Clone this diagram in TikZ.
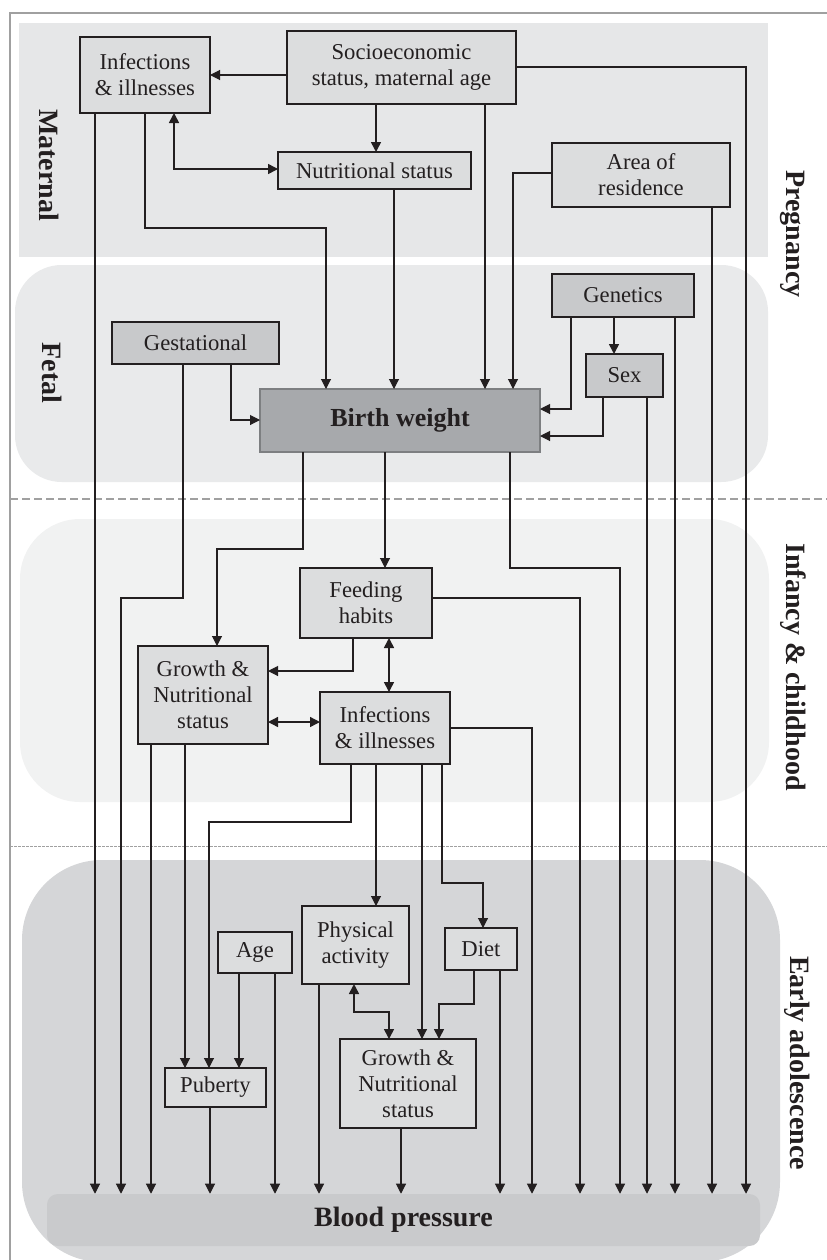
\documentclass[tikz,border=0pt]{standalone}
\usepackage{fontspec}
\setmainfont{Liberation Serif}
\usetikzlibrary{arrows.meta}
\definecolor{ink}{HTML}{231F20}
\definecolor{bandA}{HTML}{E6E7E8}
\definecolor{bandB}{HTML}{E9EAEB}
\definecolor{bandC}{HTML}{F1F2F2}
\definecolor{bandD}{HTML}{D5D6D8}
\definecolor{bpbar}{HTML}{C9CACC}
\definecolor{boxL}{HTML}{DCDDDE}
\definecolor{boxM}{HTML}{C8C9CB}
\definecolor{boxD}{HTML}{A7A9AC}
\definecolor{frameC}{HTML}{A0A0A0}
\newcommand\bx[7]{\node[#7, minimum width={(#4-#2)*0.75pt}, minimum height={(#5-#3)*0.75pt}] (#1) at ({(#2+#4)/2},{(#3+#5)/2}) {#6};}
\tikzset{
  box/.style={draw=ink, line width=1pt, inner sep=0pt, outer sep=0pt, align=center, text=ink,
    font=\fontsize{17}{19.5}\selectfont},
  lbox/.style={box, fill=boxL},
  mbox/.style={box, fill=boxM},
  dbox/.style={box, fill=boxD, draw=boxD!75!black, font=\fontsize{19.5}{22}\selectfont\bfseries},
  arr/.style={draw=ink, line width=0.8pt, -{Triangle[length=7.5pt,width=7.5pt]}},
  tarr/.style={arr, line width=1.2pt},
  barr/.style={draw=ink, line width=1.2pt, {Triangle[length=7.5pt,width=7.5pt]}-{Triangle[length=7.5pt,width=7.5pt]}},
  side/.style={font=\fontsize{21}{24}\selectfont\bfseries, text=ink, rotate=-90},
}
\begin{document}
\begin{tikzpicture}[x=0.75pt,y=-0.75pt]
\useasboundingbox (0,0) rectangle (827,1260);
\begin{scope}
\clip (0,0) rectangle (827,1260);
% frame
\draw[frameC, line width=0.8pt] (10,1270) -- (10,13) -- (830,13);
% bands
\fill[bandA] (19,23) rectangle (768,257);
\fill[bandB, rounded corners=35] (15,265) rectangle (768,482);
\fill[bandC, rounded corners=45] (20,519) rectangle (769,802);
\fill[bandD, rounded corners=60] (22,860) rectangle (780,1262);
\draw[frameC, line width=0.8pt, dash pattern=on 6pt off 3pt] (10,499) -- (827,499);
\draw[frameC, line width=0.5pt, dash pattern=on 2pt off 1pt] (10,846) -- (827,846);
\end{scope}
\node[fill=bpbar, rounded corners=8, minimum width={713*0.75pt}, minimum height={52*0.75pt}, inner sep=0pt,
  font=\fontsize{21}{24}\selectfont\bfseries, text=ink] (bp) at (403.5,1220) {Blood pressure};
% side labels
\node[side] (lmat) at (49,165) {Maternal};
\node[side] (lfet) at (52,373) {Fetal};
\node[side] (lpre) at (793,234) {Pregnancy};
\node[side] (linf) at (793,667) {Infancy \& childhood};
\node[side] (lado) at (797,1063) {Early adolescence};
% boxes
\bx{inf1}{80}{37}{210}{113}{Infections\\\& illnesses}{lbox}
\bx{soc}{287}{31}{516}{104}{Socioeconomic\\status, maternal age}{lbox}
\bx{nut}{278}{152}{471}{189}{Nutritional status}{lbox}
\bx{area}{552}{143}{730}{207}{Area of\\residence}{lbox}
\bx{gest}{112}{322}{279}{364}{Gestational}{mbox}
\bx{gen}{552}{274}{694}{317}{Genetics}{mbox}
\bx{sex}{586}{354}{663}{397}{Sex}{mbox}
\bx{bw}{260}{389}{540}{452}{Birth weight}{dbox}
\bx{feed}{300}{568}{432}{638}{Feeding\\habits}{lbox}
\bx{gn1}{138}{646}{268}{744}{Growth \&\\Nutritional\\status}{lbox}
\bx{inf2}{320}{692}{450}{764}{Infections\\\& illnesses}{lbox}
\bx{pa}{302}{906}{409}{984}{Physical\\activity}{lbox}
\bx{age}{218}{932}{292}{973}{Age}{lbox}
\bx{pub}{165}{1068}{266}{1107}{Puberty}{lbox}
\bx{diet}{445}{928}{517}{970}{Diet}{lbox}
\bx{gn2}{340}{1039}{476}{1128}{Growth \&\\Nutritional\\status}{lbox}
% maternal connectors
\draw[arr] (soc.west |- 0,75) -- (inf1.east |- 0,75);
\draw[tarr] (376,0 |- soc.south) -- (376,0 |- nut.north);
\draw[barr] (174,0 |- inf1.south) |- (nut.west |- 0,169);
\draw[arr] (145,0 |- inf1.south) |- (326,228) -- (326,0 |- bw.north);
\draw[arr] (394,0 |- nut.south) -- (394,0 |- bw.north);
\draw[arr] (485,0 |- soc.south) -- (485,0 |- bw.north);
\draw[arr] (area.west |- 0,173) -| (513,0 |- bw.north);
\draw[arr] (soc.east |- 0,67) -| (746,0 |- bp.north);
\draw[arr] (95,0 |- inf1.south) -- (95,0 |- bp.north);
\draw[arr] (712,0 |- area.south) -- (712,0 |- bp.north);
% fetal connectors
\draw[arr] (231,0 |- gest.south) |- (bw.west |- 0,420);
\draw[arr] (183,0 |- gest.south) -- (183,598) -| (121,0 |- bp.north);
\draw[arr] (571,0 |- gen.south) |- (bw.east |- 0,409);
\draw[arr] (603,0 |- sex.south) |- (bw.east |- 0,436);
\draw[tarr] (614,0 |- gen.south) -- (614,0 |- sex.north);
\draw[arr] (647,0 |- sex.south) -- (647,0 |- bp.north);
\draw[arr] (675,0 |- gen.south) -- (675,0 |- bp.north);
\draw[arr] (385,0 |- bw.south) -- (385,0 |- feed.north);
\draw[arr] (303,0 |- bw.south) -- (303,549) -| (217,0 |- gn1.north);
\draw[arr] (510,0 |- bw.south) -- (510,568) -| (620,0 |- bp.north);
% infancy connectors
\draw[arr] (353,0 |- feed.south) |- (gn1.east |- 0,671);
\draw[barr] (389,0 |- feed.south) -- (389,0 |- inf2.north);
\draw[barr, line width=1pt] (gn1.east |- 0,722) -- (inf2.west |- 0,722);
\draw[arr] (feed.east |- 0,598) -| (580,0 |- bp.north);
\draw[arr] (inf2.east |- 0,728) -| (532,0 |- bp.north);
\draw[arr] (151,0 |- gn1.south) -- (151,0 |- bp.north);
\draw[arr] (185,0 |- gn1.south) -- (185,0 |- pub.north);
\draw[arr] (351,0 |- inf2.south) -- (351,822) -| (209,0 |- pub.north);
\draw[arr] (376,0 |- inf2.south) -- (376,0 |- pa.north);
\draw[arr] (422,0 |- inf2.south) -- (422,0 |- gn2.north);
\draw[arr] (442,0 |- inf2.south) -- (442,883) -| (483,0 |- diet.north);
% adolescence connectors
\draw[arr] (239,0 |- age.south) -- (239,0 |- pub.north);
\draw[arr] (275,0 |- age.south) -- (275,0 |- bp.north);
\draw[arr] (210,0 |- pub.south) -- (210,0 |- bp.north);
\draw[arr] (319,0 |- pa.south) -- (319,0 |- bp.north);
\draw[barr] (354,0 |- pa.south) -- (354,1012) -| (389,0 |- gn2.north);
\draw[tarr] (474,0 |- diet.south) -- (474,1004) -| (439,0 |- gn2.north);
\draw[arr] (500,0 |- diet.south) -- (500,0 |- bp.north);
\draw[arr] (401,0 |- gn2.south) -- (401,0 |- bp.north);
\end{tikzpicture}
\end{document}
